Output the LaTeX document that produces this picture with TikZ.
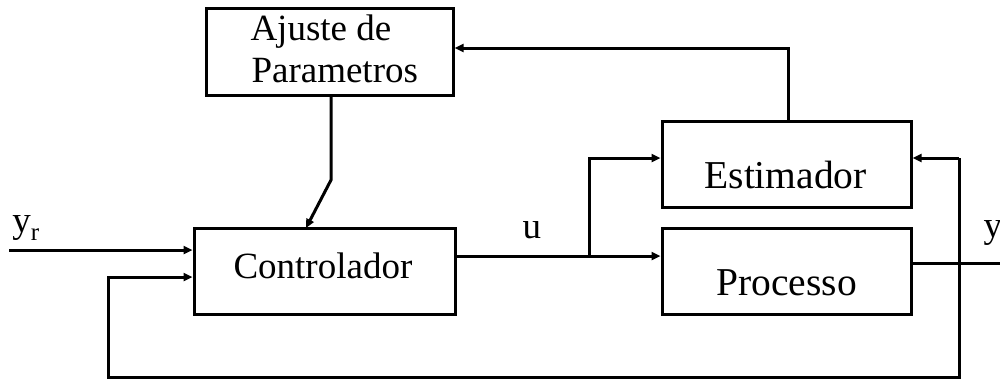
\documentclass[tikz,border=0pt]{standalone}
\usepackage{fontspec}
\setmainfont{Liberation Serif}
\usetikzlibrary{arrows.meta}
\begin{document}
\begin{tikzpicture}[x=1pt,y=-1pt,
  line width=3pt,
  blk/.style={draw,inner sep=0pt,minimum width=#1,minimum height=86pt},
  lbl/.style={inner sep=0pt,anchor=base west,font=\fontsize{37}{42}\selectfont},
  lblb/.style={inner sep=0pt,anchor=base west,font=\fontsize{39.5}{44}\selectfont},
  arr/.style={-{Triangle[length=9pt,width=8pt]}},
  lj/.style={line join=miter}]
\useasboundingbox (0,0) rectangle (1000,378);

% blocks
\node[blk=247pt,minimum height=87pt] (ajuste) at (329.5,51.5) {};
\node[blk=261pt] (ctl)  at (324.5,271) {};
\node[blk=249pt] (est)  at (786.5,164) {};
\node[blk=249pt] (proc) at (786.5,271) {};

% block texts
\node[lbl] (tajuste1) at (249,40) {Ajuste de};
\node[lbl] (tajuste2) at (250,82) {Parametros};
\node[lbl] (tctl) at (232,278) {Controlador};
\node[lblb] (test) at (703,188) {Estimador};
\node[lblb] (tproc) at (715,295) {Processo};

% signal labels
\node[lbl] (tu) at (521,238) {u};
\node[lbl] (tyr) at (11,232) {y\raisebox{-0.22em}{\fontsize{25}{25}\selectfont r}};
\node[lbl] (ty) at (982,237) {y};

% helper points
\coordinate (kbend) at (331,180);
\coordinate (kin) at (306,228);
\coordinate (yrin) at (9,250);
\coordinate (ubr) at (589,256);
\coordinate (utop) at (589,158);
\coordinate (fbtop) at (959,158);
\coordinate (fbr) at (959,377);
\coordinate (fbl) at (108,377);
\coordinate (fbin) at (108,277);
\coordinate (yout) at (1000,263);
\coordinate (ea) at (788,48);

% parameter adjustment into the controller
\draw[arr,lj] (ajuste.south -| kbend) -- (kbend) -- (kin);

% reference input
\draw[arr] (yrin) -- (yrin -| ctl.west);

% control signal u to process and estimator
\draw (ctl.east |- ubr) -- (ubr);
\draw[arr] (ubr) -- (ubr -| proc.west);
\draw[arr,lj] (ubr) -- (utop) -- (utop -| est.west);

% process output
\draw (proc.east |- yout) -- (yout);

% output fed back to estimator and controller
\draw[arr] (fbtop) -- (fbtop -| est.east);
\draw[arr,lj] (fbtop) -- (fbr) -- (fbl) -- (fbin) -- (fbin -| ctl.west);

% estimator to parameter adjustment
\draw[arr,lj] (est.north -| ea) -- (ea) -- (ea -| ajuste.east);
\end{tikzpicture}
\end{document}
